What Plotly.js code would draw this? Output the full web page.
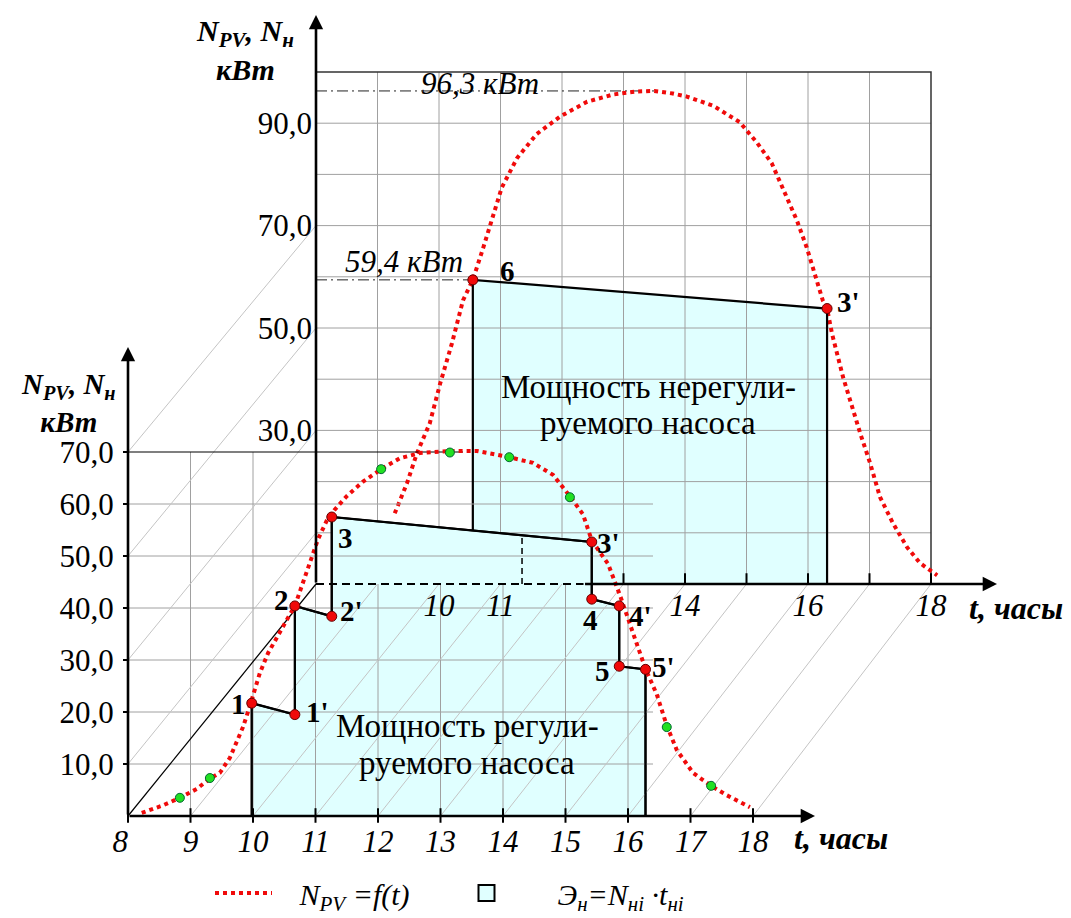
<!DOCTYPE html>
<html><head><meta charset="utf-8">
<script src="https://cdn.plot.ly/plotly-3.0.1.min.js"></script>
<style>html,body{margin:0;padding:0;background:#fff}</style>
</head><body><div id="chart" style="width:1071px;height:918px"></div>
<script>
// ---------------- DATA ----------------
// front (regulated pump) PV power curve N_PV = f(t), t in hours, N in kW
const frontCurveT = [8.22, 8.55, 8.83, 9.1, 9.31, 9.47, 9.63, 9.76, 9.84, 9.93, 10.0, 10.11, 10.24, 10.38, 10.54, 10.67, 10.78, 10.91, 11.04, 11.18, 11.3, 11.5, 11.76, 12.05, 12.35, 12.67, 13.15, 13.58, 14.1, 14.48, 14.8, 15.07, 15.28, 15.42, 15.68, 15.87, 16.1, 16.28, 16.46, 16.62, 16.78, 17.04, 17.33, 17.58, 17.95];
const frontCurveN = [0.6, 2.0, 3.5, 5.2, 7.2, 8.3, 11.2, 14.6, 17.1, 20.4, 23.0, 27.5, 31.3, 34.4, 37.7, 40.4, 44.0, 48.7, 53.2, 56.8, 58.8, 61.5, 64.3, 66.7, 68.8, 69.8, 70.2, 70.2, 69.0, 67.9, 65.6, 61.5, 58.0, 53.0, 48.5, 42.5, 34.5, 28.3, 23.4, 17.4, 12.7, 8.3, 5.8, 4.0, 1.7];
// green measured points on the front curve
const frontGreenT = [8.83, 9.31, 12.05, 13.15, 14.1, 15.07, 16.62, 17.33];
const frontGreenN = [3.5, 7.3, 66.7, 69.9, 69.0, 61.3, 17.1, 5.8];
// regulated pump step profile, points 1 .. 5'
const stepLabels = ['1', "1'", '2', "2'", '3', "3'", '4', "4'", '5', "5'"];
const stepT = [9.98, 10.67, 10.67, 11.26, 11.26, 15.42, 15.42, 15.86, 15.86, 16.28];
const stepN = [21.7, 19.5, 40.4, 38.4, 57.5, 52.7, 41.7, 40.4, 28.8, 28.2];

// back (unregulated pump) PV power curve
const backCurveT = [9.28, 9.48, 9.64, 9.85, 10.02, 10.21, 10.39, 10.55, 10.72, 10.86, 11.02, 11.27, 11.59, 11.97, 12.41, 12.83, 13.22, 13.5, 13.8, 14.03, 14.46, 14.89, 15.17, 15.41, 15.67, 15.82, 15.98, 16.11, 16.24, 16.31, 16.39, 16.57, 16.73, 16.85, 17.01, 17.17, 17.38, 17.61, 17.82, 18.1];
const backCurveN = [13.8, 19.7, 25.5, 31.4, 39.2, 47.0, 55.4, 59.4, 65.7, 71.0, 77.4, 83.2, 87.9, 91.3, 94.2, 95.6, 96.2, 96.3, 95.8, 95.2, 93.4, 90.2, 86.2, 82.2, 75.0, 71.0, 65.7, 60.6, 55.4, 53.8, 48.9, 40.4, 33.9, 29.4, 23.6, 17.0, 11.9, 7.2, 4.1, 1.7];
// unregulated pump: points 6 and 3'
const backStepLabels = ['6', "3'"];
const backStepT = [10.55, 16.31];
const backStepN = [59.4, 53.8];
const peakN = 96.3, peakT = 13.5;

// ticks
const frontXTicks = [8, 9, 10, 11, 12, 13, 14, 15, 16, 17, 18];
const frontXText = ['8&nbsp;&nbsp;', '9', '10', '11', '12', '13', '14', '15', '16', '17', '18'];
const frontYTicks = [10, 20, 30, 40, 50, 60, 70];
const frontYText = ['10,0', '20,0', '30,0', '40,0', '50,0', '60,0', '70,0'];
const backXTicks = [10, 11, 14, 16, 18];
const backYTicks = [30, 50, 70, 90];
const backYText = ['30,0', '50,0', '70,0', '90,0'];
const backGridT = [9, 10, 11, 12, 13, 14, 15, 16, 17];
const backGridN = [10, 20, 30, 40, 50, 60, 70, 80, 90];
const frontGridN = [10, 20, 30, 40, 50, 60];
const frontGridT = [9, 10, 11, 12, 13, 14, 15, 16];
const wallN = [10, 30, 50, 70];

// ---------------- GEOMETRY (page layout) ----------------
const W = 1071, H = 918;
const F = {x0: 128, sx: 62.5, y0: 816, sy: 5.2};   // front plane: t=8 at x0, N=0 at y0
const B = {x0: 316, sx: 61.5, y0: 584, sy: 5.12};  // back plane
const fRangeX = [8 - F.x0 / F.sx, 8 + (W - F.x0) / F.sx];
const fRangeY = [-(H - F.y0) / F.sy, F.y0 / F.sy];
const bRangeX = [8 - B.x0 / B.sx, 8 + (W - B.x0) / B.sx];
const bRangeY = [-(H - B.y0) / B.sy, B.y0 / B.sy];
// map a back-plane value into front-plane axis units (for oblique connectors)
function b2f(t, n) {
  const px = B.x0 + (t - 8) * B.sx, py = B.y0 - n * B.sy;
  return [8 + (px - F.x0) / F.sx, (F.y0 - py) / F.sy];
}
const P = (x, y) => ({x: x / W, y: 1 - y / H});

const CYAN = '#e0ffff', RED = '#f00a0a', GRID = '#a0a0a0', DIAG = '#c4c4c4';
const SERIF = 'Liberation Serif';

function seg(list) { // list of [[x0,y0],[x1,y1]] -> x,y with gaps
  const x = [], y = [];
  list.forEach(s => { x.push(s[0][0], s[1][0], null); y.push(s[0][1], s[1][1], null); });
  return {x, y};
}
const base = {hoverinfo: 'skip', showlegend: false, mode: 'lines'};

const traces = [];
// ===== back plane (xy) =====
traces.push(Object.assign({}, base, {x: [backStepT[0], backStepT[0], backStepT[1], backStepT[1]], y: [0, backStepN[0], backStepN[1], 0],
  fill: 'toself', fillcolor: CYAN, line: {width: 0}}));
let g = seg(backGridT.map(t => [[t, 0], [t, 100]]).concat(backGridN.map(n => [[8, n], [18, n]])));
traces.push(Object.assign({}, base, g, {line: {color: GRID, width: 1}}));
traces.push(Object.assign({}, base, {x: [8, 18, 18], y: [100, 100, 0], line: {color: '#333', width: 1.5}}));
g = seg([[[8, peakN], [peakT, peakN]], [[8, backStepN[0]], [backStepT[0], backStepN[0]]]]);
traces.push(Object.assign({}, base, g, {line: {color: '#222', width: 1, dash: '11px,4px,2px,4px'}}));
traces.push(Object.assign({}, base, {x: backCurveT, y: backCurveN, line: {color: RED, width: 4, dash: 'dot'}}));
traces.push(Object.assign({}, base, {x: [backStepT[0], backStepT[0], backStepT[1], backStepT[1]], y: [0, backStepN[0], backStepN[1], 0],
  line: {color: '#000', width: 2.2}}));
traces.push(Object.assign({}, base, {x: backStepT, y: backStepN, mode: 'markers',
  marker: {size: 10, color: RED, line: {color: '#600', width: 1}}}));

// ===== front plane (x2y2) =====
const fb = {xaxis: 'x2', yaxis: 'y2'};
const polyT = [stepT[0]].concat(stepT, [stepT[stepT.length - 1]]);
const polyN = [0].concat(stepN, [0]);
traces.push(Object.assign({}, base, fb, {x: polyT.concat([stepT[0]]), y: polyN.concat([0]), fill: 'toself', fillcolor: CYAN,
  line: {color: '#000', width: 2}}));
const backAxisN = b2f(8, 0)[1];
const fg = frontGridN.map(n => [[8, n], [16.4, n]]).concat(frontGridT.map(t => [[t, 0], [t, t <= 11 ? 70 : backAxisN]]));
g = seg(fg);
traces.push(Object.assign({}, base, fb, g, {line: {color: GRID, width: 1}}));
const dg = frontXTicks.filter(t => t > 8).map(t => [[t, 0], b2f(t, 0)]).concat(wallN.map(n => [[8, n], b2f(8, n)]));
g = seg(dg);
traces.push(Object.assign({}, base, fb, g, {line: {color: DIAG, width: 1}}));
g = seg([[[8, 0], b2f(8, 0)], [[8, 70], [13.36, 70]]]);
traces.push(Object.assign({}, base, fb, g, {line: {color: '#000', width: 1.2}}));
traces.push(Object.assign({}, base, fb, {x: polyT, y: polyN, line: {color: '#000', width: 2.2}}));
traces.push(Object.assign({}, base, fb, {x: frontCurveT, y: frontCurveN, line: {color: RED, width: 4, dash: 'dot'},
  showlegend: true, legendrank: 1, name: '&nbsp;&nbsp;&nbsp;N<sub>PV</sub> =f(t)'}));
traces.push(Object.assign({}, base, fb, {x: frontGreenT, y: frontGreenN, mode: 'markers',
  marker: {size: 9, color: '#22e022', line: {color: '#063', width: 1}}}));
traces.push(Object.assign({}, base, fb, {x: stepT, y: stepN, mode: 'markers',
  marker: {size: 10, color: RED, line: {color: '#600', width: 1}}}));
// legend swatch for the energy area
traces.push({type: 'scatter', mode: 'markers', xaxis: 'x2', yaxis: 'y2', x: [null], y: [null], hoverinfo: 'skip',
  marker: {symbol: 'square', size: 16, color: CYAN, line: {color: '#000', width: 2}},
  showlegend: true, legendrank: 2, name: '&nbsp;&nbsp;&nbsp;&nbsp;&nbsp;Э<sub>н</sub>=N<sub>нi</sub> ·t<sub>нi</sub>'});

// ---------------- shapes drawn on top ----------------
const shapes = [];
shapes.push({type: 'line', xref: 'x', yref: 'y', x0: 8, x1: 12.35, y0: 0, y1: 0, layer: 'above', line: {color: '#000', width: 1.8, dash: '8px,5px'}});
shapes.push({type: 'line', xref: 'x', yref: 'y', x0: 11.35, x1: 11.35, y0: 0, y1: 9.6, layer: 'above', line: {color: '#000', width: 1.5, dash: '6px,4px'}});
[13, 14, 15, 16, 17, 18].forEach(t => shapes.push({type: 'line', xref: 'x', yref: 'y', x0: t, x1: t, y0: 0, y1: 2.1, layer: 'above', line: {color: '#000', width: 2}}));
frontXTicks.forEach(t => shapes.push({type: 'line', xref: 'x2', yref: 'y2', x0: t, x1: t, y0: -1.3, y1: 1.5, layer: 'above', line: {color: '#000', width: 2}}));

// ---------------- annotations ----------------
const ann = [];
function arrow(xr, yr, x0, y0, x1, y1) {
  ann.push({xref: xr, yref: yr, axref: xr, ayref: yr, x: x1, y: y1, ax: x0, ay: y0, text: '', showarrow: true,
    arrowhead: 2, arrowsize: 1.1, arrowwidth: 2.6, arrowcolor: '#000', standoff: 0, startstandoff: 0});
}
arrow('x2', 'y2', 8, 0, 8 + (815 - F.x0) / F.sx, 0);
arrow('x2', 'y2', 8, 0, 8, (F.y0 - 347) / F.sy);
arrow('x', 'y', 8, 0, 8, (B.y0 - 15) / B.sy);
arrow('x', 'y', 12.35, 0, 8 + (997 - B.x0) / B.sx, 0);

function txt(x, y, text, size, extra) {
  ann.push(Object.assign({xref: 'paper', yref: 'paper', x: P(x, y).x, y: P(x, y).y, text: text, showarrow: false,
    xanchor: 'center', yanchor: 'middle', font: {family: SERIF, size: size, color: '#000'}}, extra || {}));
}
const ttl = '<b><i>N<sub>PV</sub>, N<sub>н</sub></i></b><br><b><i>кВт</i></b>';
txt(69, 403, ttl, 29);
txt(245, 50, ttl, 30);
txt(841, 838, '<b><i>t, часы</i></b>', 32);
txt(1016, 608, '<b><i>t, часы</i></b>', 32);
txt(480, 83, '<i>96,3 кВт</i>', 31);
txt(404, 262, '<i>59,4 кВт</i>', 31);
txt(648, 387, 'Мощность нерегули-', 33);
txt(648, 423, 'руемого насоса', 33);
txt(467, 726, 'Мощность регули-', 33);
txt(467, 763, 'руемого насоса', 33);
const labPos = [[238, 704], [317, 712], [281, 600], [351, 611], [345, 538], [608, 543], [590, 620], [640, 616], [602, 671], [663, 667]];
stepLabels.forEach((l, i) => txt(labPos[i][0], labPos[i][1], '<b>' + l + '</b>', 29));
const bLabPos = [[507, 271], [848, 302]];
backStepLabels.forEach((l, i) => txt(bLabPos[i][0], bLabPos[i][1], '<b>' + l + '</b>', 29));

const tickFont = {family: SERIF, size: 31, color: '#000'};
const axCommon = {showgrid: false, zeroline: false, showline: false, fixedrange: true, automargin: false};
const layout = {
  width: W, height: H, margin: {l: 0, r: 0, t: 0, b: 0, pad: 0, autoexpand: false}, paper_bgcolor: '#fff', plot_bgcolor: 'rgba(0,0,0,0)',
  font: {family: SERIF},
  xaxis: Object.assign({}, axCommon, {range: bRangeX, anchor: 'free', position: (H - B.y0) / H, side: 'bottom',
    tickmode: 'array', tickvals: backXTicks, ticktext: backXTicks.map(String), ticks: '', ticklabelstandoff: 0,
    tickfont: Object.assign({}, tickFont, {style: 'italic'})}),
  yaxis: Object.assign({}, axCommon, {range: bRangeY, anchor: 'free', position: B.x0 / W, side: 'left',
    tickmode: 'array', tickvals: backYTicks, ticktext: backYText, ticks: '', ticklabelstandoff: 4, tickfont: tickFont}),
  xaxis2: Object.assign({}, axCommon, {range: fRangeX, overlaying: 'x', anchor: 'free', position: (H - F.y0) / H, side: 'bottom',
    tickmode: 'array', tickvals: frontXTicks, ticktext: frontXText, ticks: '', ticklabelstandoff: 4,
    tickfont: Object.assign({}, tickFont, {style: 'italic'})}),
  yaxis2: Object.assign({}, axCommon, {range: fRangeY, overlaying: 'y', anchor: 'free', position: F.x0 / W, side: 'left',
    tickmode: 'array', tickvals: frontYTicks, ticktext: frontYText, ticks: 'outside', ticklen: 5, tickwidth: 2, tickcolor: '#000',
    ticklabelstandoff: 3, tickfont: tickFont}),
  showlegend: true,
  legend: {orientation: 'h', x: 210 / W, y: 1 - 893 / H, xanchor: 'left', yanchor: 'middle', bgcolor: 'rgba(0,0,0,0)',
    itemwidth: 57, entrywidth: 171, entrywidthmode: 'pixels', traceorder: 'normal',
    font: {family: SERIF, size: 30, style: 'italic', color: '#000'}},
  shapes: shapes, annotations: ann
};
Plotly.newPlot('chart', traces, layout, {displayModeBar: false, staticPlot: true});
</script>
</body></html>
